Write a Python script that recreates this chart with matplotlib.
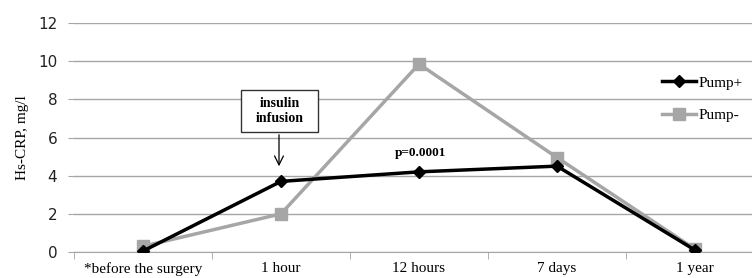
import matplotlib
matplotlib.use("Agg")
import matplotlib.pyplot as plt
from matplotlib.patches import Rectangle

categories = ["*before the surgery", "1 hour", "12 hours", "7 days", "1 year"]
pump_plus = [0.05, 3.7, 4.2, 4.5, 0.1]
pump_minus = [0.3, 2.0, 9.85, 4.95, 0.15]
y_ticks = [0, 2, 4, 6, 8, 10, 12]

W, H = 752, 278
fig = plt.figure(figsize=(W / 100, H / 100), dpi=100)
ax = fig.add_axes([74 / W, 26 / H, 690 / W, 229 / H])

x = list(range(len(categories)))
grid_c = "#a6a6a6"
ax.plot(x, pump_minus, color="#a6a6a6", lw=2.5, marker="s", ms=8, label="Pump-", zorder=3)
ax.plot(x, pump_plus, color="black", lw=2.5, marker="D", ms=6, label="Pump+", zorder=4)

ax.set_xlim(-0.5, 4.5)
ax.set_ylim(0, 12)
ax.set_yticks(y_ticks)
ax.yaxis.grid(True, color=grid_c, lw=1)
ax.set_axisbelow(True)
for s in ["top", "right", "left"]:
    ax.spines[s].set_visible(False)
ax.spines["bottom"].set_color(grid_c)
ax.set_xticks(x)
ax.set_xticklabels(categories, fontfamily="Liberation Serif", fontsize=11)
ax.set_xticks([i - 0.5 for i in range(len(categories) + 1)], minor=True)
ax.tick_params(axis="x", which="major", length=0, pad=7)
ax.tick_params(axis="x", which="minor", length=5, color=grid_c)
ax.tick_params(axis="y", length=4, color=grid_c, labelsize=11, labelcolor="#222222", pad=8)
ax.set_ylabel("Hs-CRP, mg/l", fontfamily="Liberation Serif", fontsize=11)
ax.yaxis.set_label_coords((29 - 74) / 690, 0.5)

# annotation box
fig.patches.append(Rectangle((241 / W, 1 - 132 / H), 77 / W, 42 / H, transform=fig.transFigure,
                             fc="white", ec="#333333", lw=1, figure=fig, zorder=5))
fig.text(280 / W, 1 - 111 / H, "insulin\ninfusion", ha="center", va="center",
         fontfamily="Liberation Serif", fontweight="bold", fontsize=10, linespacing=1.25, zorder=6)
ax.annotate("", xy=(279 / W, 1 - 169 / H), xytext=(279 / W, 1 - 132 / H),
            xycoords="figure fraction", textcoords="figure fraction",
            arrowprops=dict(arrowstyle="->", color="black", lw=0.9, mutation_scale=16))
fig.text(420 / W, 1 - 153 / H, "p=0.0001", ha="center", va="center",
         fontfamily="Liberation Serif", fontweight="bold", fontsize=9.5)

# legend
handles, labels = ax.get_legend_handles_labels()
fig.legend([handles[1], handles[0]], [labels[1], labels[0]],
           loc="center left", bbox_to_anchor=(656 / W, 1 - 99 / H),
           prop=dict(family="Liberation Serif", size=11), frameon=False,
           handlelength=2.2, handletextpad=0.2, labelspacing=1.2, borderaxespad=0)

fig.savefig("out.png", dpi=100)
